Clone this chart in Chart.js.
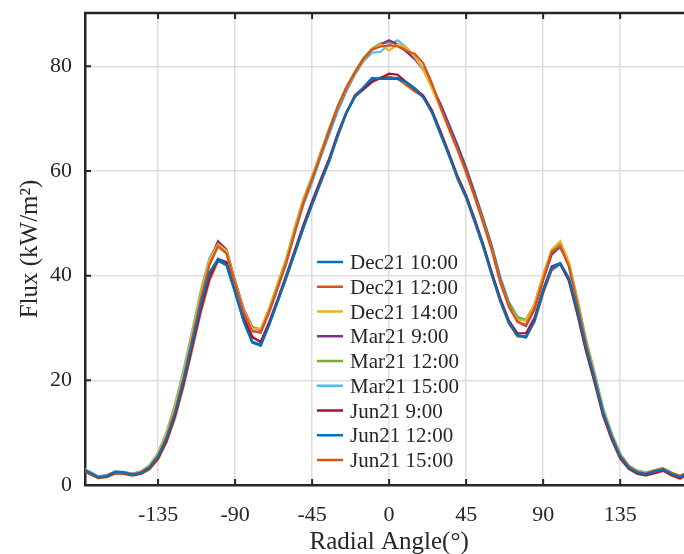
<!DOCTYPE html>
<html>
<head>
<meta charset="utf-8">
<script src="https://cdn.jsdelivr.net/npm/chart.js@4"></script>
<style>
  html, body { margin: 0; padding: 0; background: #fff; }
  #wrap { width: 684px; height: 554px; position: relative; }
</style>
</head>
<body>
<div id="wrap"><canvas id="flux-chart"></canvas></div>
<script>
// radial angle samples (deg)
const angles = [
  -180, -175, -170, -165, -160, -155, -150, -145, -140, -135,
  -130, -125, -120, -115, -110, -105, -100, -95, -90, -85,
  -80, -75, -70, -65, -60, -55, -50, -45, -40, -35,
  -30, -25, -20, -15, -10, -5, 0, 5, 10, 15,
  20, 25, 30, 35, 40, 45, 50, 55, 60, 65,
  70, 75, 80, 85, 90, 95, 100, 105, 110, 115,
  120, 125, 130, 135, 140, 145, 150, 155, 160, 165,
  170, 175, 180
];

const seriesNames = [
  'Dec21 10:00', 'Dec21 12:00', 'Dec21 14:00',
  'Mar21 9:00', 'Mar21 12:00', 'Mar21 15:00',
  'Jun21 9:00', 'Jun21 12:00', 'Jun21 15:00'
];

const dec21_1000 = [
  3.2, 2.4, 1.5, 1.7, 2.5, 2.4, 2.0, 2.3, 3.4, 5.5,
  9.0, 13.9, 20.3, 27.4, 34.5, 40.6, 43.2, 42.0, 36.8, 31.2,
  27.2, 26.6, 30.6, 35.2, 39.8, 44.4, 49.2, 53.6, 57.8, 62.0,
  66.8, 71.0, 74.2, 76.0, 77.8, 77.6, 77.6, 77.6, 77.0, 75.8,
  74.0, 71.2, 67.0, 63.0, 58.6, 55.0, 50.4, 45.6, 40.2, 35.2,
  31.0, 28.6, 28.2, 31.4, 37.2, 41.6, 42.4, 39.6, 33.4, 26.4,
  20.4, 14.0, 9.3, 5.5, 3.4, 2.4, 2.1, 2.6, 3.0, 2.1,
  1.5, 2.4, 2.9
];
const dec21_1200 = [
  3.1, 2.3, 1.5, 1.7, 2.4, 2.3, 2.0, 2.4, 3.4, 5.5,
  9.2, 14.2, 20.6, 28.0, 35.6, 42.0, 45.6, 44.2, 38.4, 33.0,
  29.4, 29.2, 33.2, 37.8, 42.6, 48.4, 54.0, 58.4, 63.0, 67.8,
  72.4, 76.0, 78.8, 81.4, 83.2, 83.8, 84.0, 83.8, 83.0, 82.4,
  80.6, 76.8, 72.2, 68.0, 64.0, 59.8, 55.0, 50.0, 44.8, 38.6,
  34.0, 31.2, 30.6, 33.8, 39.2, 44.6, 45.6, 41.8, 34.6, 27.0,
  20.6, 13.9, 9.4, 5.6, 3.5, 2.5, 2.2, 2.7, 3.1, 2.3,
  1.7, 2.6, 3.1
];
const dec21_1400 = [
  3.3, 2.5, 1.6, 1.8, 2.5, 2.4, 2.1, 2.5, 3.7, 6.0,
  9.9, 15.2, 21.6, 29.0, 36.6, 43.0, 46.0, 44.8, 38.8, 33.4,
  30.0, 29.8, 33.8, 38.4, 43.2, 49.2, 54.6, 58.8, 63.4, 67.8,
  72.2, 75.8, 78.8, 81.2, 83.2, 84.2, 83.0, 84.2, 83.6, 81.8,
  79.4, 75.8, 72.0, 68.0, 64.0, 59.6, 55.0, 50.2, 45.0, 38.8,
  34.2, 31.6, 31.4, 34.6, 40.2, 45.0, 46.6, 42.6, 35.2, 27.6,
  21.2, 14.4, 9.8, 5.9, 3.7, 2.7, 2.3, 2.7, 3.1, 2.3,
  1.7, 2.6, 3.1
];
const mar21_0900 = [
  3.2, 2.4, 1.6, 1.8, 2.5, 2.4, 2.1, 2.5, 3.6, 5.8,
  9.6, 14.8, 21.0, 28.4, 36.0, 42.6, 46.6, 45.0, 39.0, 33.6,
  30.2, 29.6, 33.4, 38.0, 42.8, 48.8, 54.2, 58.6, 63.2, 67.6,
  72.0, 75.6, 78.8, 81.2, 83.2, 84.2, 85.0, 84.2, 82.8, 81.4,
  79.4, 76.2, 72.8, 68.8, 64.8, 60.4, 55.6, 50.6, 45.4, 39.2,
  34.4, 31.2, 30.4, 33.6, 39.2, 44.0, 45.6, 42.0, 34.8, 27.2,
  20.8, 14.0, 9.5, 5.7, 3.5, 2.5, 2.1, 2.5, 2.9, 2.1,
  1.5, 2.4, 2.9
];
const mar21_1200 = [
  3.3, 2.5, 1.6, 1.8, 2.5, 2.4, 2.1, 2.5, 3.6, 5.9,
  9.8, 15.0, 21.4, 28.8, 36.2, 42.4, 45.8, 44.4, 38.8, 33.4,
  30.0, 29.8, 33.8, 38.6, 43.4, 49.4, 54.8, 59.0, 63.6, 68.2,
  72.4, 76.0, 79.0, 81.6, 83.4, 84.4, 84.6, 84.2, 83.4, 81.8,
  79.6, 76.2, 72.6, 68.8, 64.8, 60.6, 55.8, 50.8, 45.6, 39.4,
  34.8, 32.0, 31.6, 34.6, 40.0, 44.8, 46.2, 42.4, 35.2, 27.6,
  21.2, 14.4, 9.7, 5.8, 3.6, 2.6, 2.3, 2.8, 3.2, 2.4,
  1.7, 2.6, 3.1
];
const mar21_1500 = [
  3.4, 2.6, 1.7, 1.9, 2.6, 2.5, 2.2, 2.6, 3.8, 6.2,
  10.2, 15.6, 22.2, 29.6, 37.2, 43.4, 46.2, 44.4, 38.4, 33.0,
  29.4, 29.0, 33.0, 37.6, 42.4, 48.2, 53.6, 57.8, 62.6, 67.0,
  71.4, 75.2, 78.4, 81.0, 82.6, 82.8, 84.2, 85.0, 83.6, 81.6,
  79.4, 76.2, 72.8, 69.0, 65.0, 60.8, 56.0, 51.0, 45.8, 39.8,
  35.0, 32.2, 31.4, 34.4, 39.8, 44.8, 45.2, 42.6, 35.6, 28.0,
  21.6, 14.8, 10.0, 6.0, 3.8, 2.8, 2.4, 2.8, 3.2, 2.3,
  1.7, 2.6, 3.1
];
const jun21_0900 = [
  3.0, 2.2, 1.4, 1.6, 2.3, 2.2, 1.9, 2.2, 3.2, 5.2,
  8.6, 13.4, 19.6, 26.6, 33.6, 39.6, 43.2, 42.6, 37.4, 32.2,
  28.2, 27.4, 31.2, 35.6, 40.2, 45.0, 49.8, 54.2, 58.4, 62.4,
  67.2, 71.2, 74.2, 75.6, 77.0, 77.8, 78.6, 78.4, 77.0, 75.8,
  74.4, 71.6, 67.6, 63.4, 59.0, 55.4, 50.8, 46.0, 40.6, 35.6,
  31.4, 29.0, 29.0, 32.0, 37.4, 41.8, 42.4, 39.2, 32.8, 25.8,
  19.8, 13.4, 8.9, 5.2, 3.2, 2.2, 1.9, 2.3, 2.8, 1.9,
  1.3, 2.2, 2.7
];
const jun21_1200 = [
  3.1, 2.3, 1.5, 1.7, 2.4, 2.3, 2.0, 2.3, 3.3, 5.4,
  8.9, 13.8, 20.2, 27.2, 34.2, 40.2, 42.8, 42.0, 36.8, 31.4,
  27.4, 26.8, 30.8, 35.2, 39.8, 44.6, 49.4, 53.8, 58.0, 62.0,
  67.0, 71.2, 74.2, 75.8, 77.4, 77.8, 77.8, 77.8, 77.0, 75.6,
  74.2, 71.4, 67.2, 63.0, 58.8, 55.2, 50.6, 45.8, 40.4, 35.4,
  31.0, 28.6, 28.4, 31.6, 37.0, 41.4, 42.2, 39.4, 33.2, 26.2,
  20.2, 13.8, 9.2, 5.4, 3.3, 2.3, 2.0, 2.5, 3.0, 2.1,
  1.5, 2.4, 2.9
];
const jun21_1500 = [
  2.9, 2.1, 1.3, 1.5, 2.2, 2.1, 1.8, 2.1, 3.0, 4.9,
  8.2, 12.9, 19.0, 26.0, 33.0, 39.0, 42.8, 42.4, 37.6, 32.4,
  28.4, 27.2, 30.8, 35.2, 39.6, 44.4, 49.2, 53.6, 57.8, 61.8,
  66.6, 71.0, 74.6, 75.9, 77.2, 77.8, 78.0, 77.6, 76.4, 75.2,
  74.2, 71.2, 67.2, 63.0, 58.4, 54.8, 50.2, 45.4, 40.0, 35.0,
  30.8, 28.4, 28.2, 31.2, 36.6, 41.0, 42.2, 39.0, 32.6, 25.6,
  19.6, 13.2, 8.7, 5.0, 3.1, 2.1, 1.8, 2.2, 2.7, 1.8,
  1.2, 2.1, 2.6
];

const xTicks = [-135, -90, -45, 0, 45, 90, 135];
const yTicks = [0, 20, 40, 60, 80];

const allSeries = [
  dec21_1000, dec21_1200, dec21_1400,
  mar21_0900, mar21_1200, mar21_1500,
  jun21_0900, jun21_1200, jun21_1500
];

// MATLAB default line colours (7 then wrap)
const colors = [
  '#0072BD', '#D95319', '#EDB120', '#7E2F8E', '#77AC30',
  '#4DBEEE', '#A2142F', '#0072BD', '#D95319'
];

const FONT = "'Liberation Serif', 'Times New Roman', serif";
const INK = '#262626';

// axes box (top line), inward tick marks, axis titles and legend
const matlabAxes = {
  id: 'matlabAxes',
  afterDatasetsDraw(chart) {
    const ctx = chart.ctx;
    const a = chart.chartArea;
    const xs = chart.scales.x, ys = chart.scales.y;
    ctx.save();
    ctx.strokeStyle = INK;
    ctx.lineWidth = 2.5;
    ctx.beginPath();
    ctx.moveTo(a.left - 1, a.top);
    ctx.lineTo(a.right, a.top);
    ctx.stroke();

    ctx.lineWidth = 2;
    ctx.beginPath();
    xTicks.forEach(v => {
      const px = xs.getPixelForValue(v);
      ctx.moveTo(px, a.bottom); ctx.lineTo(px, a.bottom - 6);
      ctx.moveTo(px, a.top); ctx.lineTo(px, a.top + 6);
    });
    yTicks.forEach(v => {
      const py = ys.getPixelForValue(v);
      ctx.moveTo(a.left, py); ctx.lineTo(a.left + 6, py);
    });
    ctx.stroke();

    // axis titles
    ctx.fillStyle = INK;
    ctx.font = '25px ' + FONT;
    ctx.textAlign = 'center';
    ctx.textBaseline = 'middle';
    ctx.fillText('Radial Angle(°)', xs.getPixelForValue(0), 542);
    ctx.save();
    ctx.translate(30, (a.top + a.bottom) / 2);
    ctx.rotate(-Math.PI / 2);
    ctx.fillText('Flux (kW/m²)', 0, 0);
    ctx.restore();

    // legend (no box)
    ctx.font = '21px ' + FONT;
    ctx.textAlign = 'left';
    ctx.textBaseline = 'alphabetic';
    ctx.lineWidth = 2.5;
    seriesNames.forEach((name, i) => {
      const y = 262 + i * 24.75;
      ctx.strokeStyle = colors[i];
      ctx.beginPath();
      ctx.moveTo(317, y); ctx.lineTo(343, y);
      ctx.stroke();
      ctx.fillText(name, 350, y + 7);
    });
    ctx.restore();
  }
};

const datasets = allSeries.map((vals, i) => ({
  label: seriesNames[i],
  data: angles.map((a, j) => ({ x: a, y: vals[j] })),
  borderColor: colors[i],
  borderWidth: 2.2,
  pointRadius: 0,
  tension: 0,
  fill: false
}));

new Chart(document.getElementById('flux-chart'), {
  type: 'line',
  data: { datasets },
  plugins: [matlabAxes],
  options: {
    responsive: true,
    maintainAspectRatio: false,
    animation: false,
    layout: { padding: { top: 13, right: 0, left: 0, bottom: 0 } },
    plugins: {
      legend: { display: false },
      tooltip: { enabled: false }
    },
    scales: {
      x: {
        type: 'linear',
        min: -177.7,
        max: 172.3,
        afterBuildTicks: s => { s.ticks = xTicks.map(v => ({ value: v })); },
        afterFit: s => { s.height = 69; s.paddingLeft = 0; s.paddingRight = 0; },
        ticks: { font: { family: FONT, size: 22 }, color: INK, padding: 17, maxRotation: 0 },
        grid: { color: '#dedede', lineWidth: 1.5, drawTicks: false },
        border: { display: true, color: INK, width: 2.5 }
      },
      y: {
        min: 0,
        max: 90.2,
        afterBuildTicks: s => { s.ticks = yTicks.map(v => ({ value: v })); },
        afterFit: s => { s.width = 85; s.paddingTop = 0; s.paddingBottom = 0; },
        ticks: { font: { family: FONT, size: 22 }, color: INK, padding: 13 },
        grid: { color: '#dedede', lineWidth: 1.5, drawTicks: false },
        border: { display: true, color: INK, width: 2.5 }
      }
    }
  }
});
</script>
</body>
</html>
